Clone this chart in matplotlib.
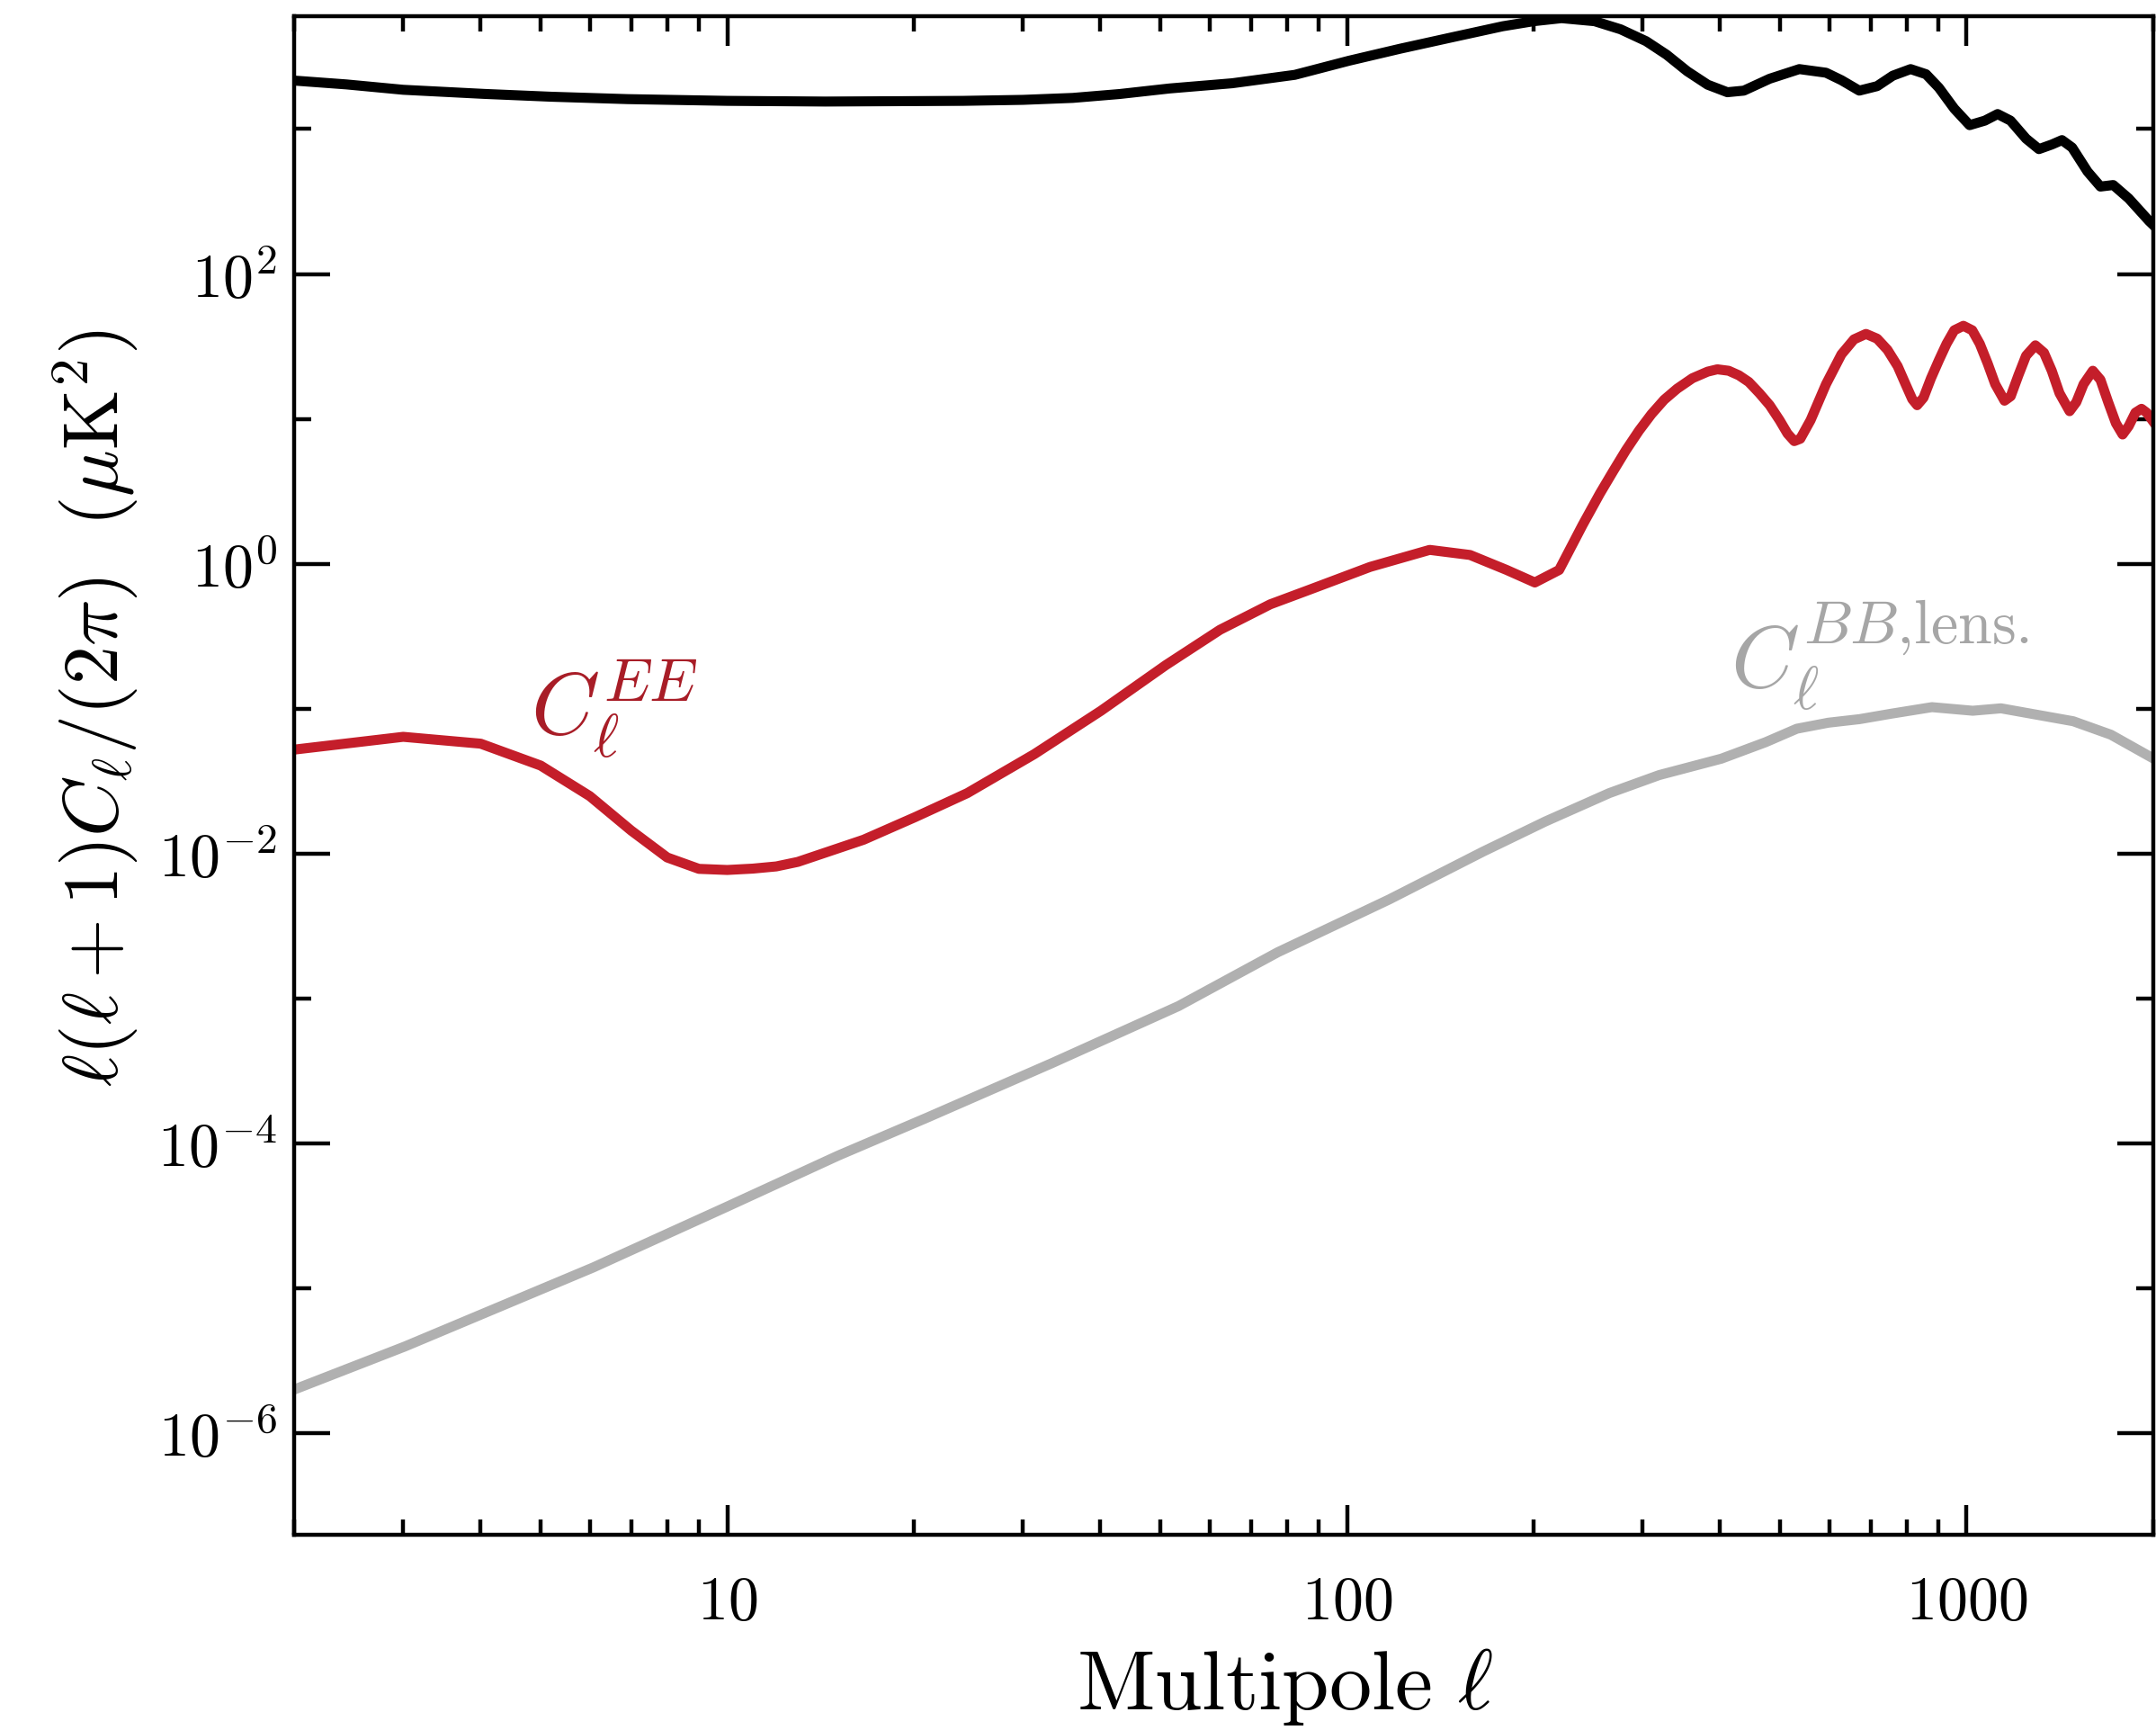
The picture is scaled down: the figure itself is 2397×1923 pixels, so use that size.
import numpy as np
import matplotlib
matplotlib.use("Agg")
import matplotlib.pyplot as plt
from matplotlib.ticker import FixedLocator, FixedFormatter, LogLocator, NullFormatter

plt.rcParams["mathtext.fontset"] = "cm"

# TT spectrum (black)
tt_ell = [2, 2.43, 3.0, 4.05, 5.2, 6.9, 10, 14.4, 24, 30, 36.1, 43, 51.7, 65.3,
          82.4, 100.7, 121.8, 147.4, 178.3, 200, 222, 251, 276.5, 304, 328,
          354, 382, 411, 437, 481, 537, 593, 628, 671, 717, 760, 812, 860, 902,
          955, 1011, 1070, 1122, 1177, 1247, 1308, 1372, 1425, 1480, 1567,
          1644, 1724, 1826, 1970, 2000]
tt_val = [2160, 2032, 1866, 1748, 1671, 1609, 1565, 1548, 1565, 1590, 1640,
          1745, 1905, 2070, 2366, 2958, 3581, 4285, 5117, 5546, 5821, 5546,
          4874, 4036, 3258, 2506, 2023, 1795, 1841, 2224, 2592, 2447, 2173,
          1841, 1977, 2334, 2592, 2389, 1928, 1383, 1064, 1143, 1269, 1143,
          859, 727, 782, 839, 745, 509, 401, 411, 332, 232, 218]

# EE spectrum (red)
ee_ell = [2, 3, 4, 5, 6, 7, 8, 9, 10, 11, 12, 13, 16.6, 20.1, 24.4, 31.3,
          40.1, 51.0, 62.4, 75.2, 87.3, 109, 136, 158, 181, 201, 220, 240,
          256, 269, 282, 296, 310, 325, 341, 361, 382, 396, 413, 429, 445,
          463, 481, 499, 514, 527, 539, 560, 593, 628, 658, 688, 717, 745,
          774, 797, 817, 832, 852, 876, 902, 928, 955, 988, 1021, 1050, 1081,
          1112, 1151, 1178, 1212, 1247, 1291, 1333, 1372, 1412, 1466, 1503,
          1544, 1598, 1644, 1692, 1741, 1785, 1826, 1872, 1915, 1952, 2000]
ee_val = [0.0523, 0.0641, 0.0575, 0.0406, 0.0250, 0.01445, 0.00943, 0.00787,
          0.00773, 0.0079, 0.00818, 0.00879, 0.0125, 0.0179, 0.0262, 0.0487,
          0.097, 0.20, 0.351, 0.526, 0.667, 0.953, 1.249, 1.152, 0.908, 0.744,
          0.908, 1.854, 3.06, 4.37, 6.09, 8.30, 10.79, 13.56, 16.16, 19.1,
          21.2, 22.0, 21.5, 20.0, 18.0, 15.05, 12.44, 9.81, 7.92, 7.03, 7.30,
          9.81, 17.36, 27.9, 35.4, 38.6, 35.8, 30.0, 23.1, 17.36, 13.69,
          12.44, 14.02, 19.1, 25.4, 33.0, 40.9, 43.9, 40.9, 33.0, 24.2, 17.36,
          13.36, 14.35, 20.0, 27.3, 32.2, 28.6, 21.5, 15.05, 11.31, 13.05,
          17.36, 21.5, 18.64, 13.05, 9.35, 7.81, 8.92, 11.05, 11.75, 11.05,
          9.6]

# lensing BB spectrum (grey)
bb_ell = [2, 3.02, 6.08, 10, 15.1, 21, 33.5, 53.5, 77.3, 117, 166, 209, 265,
          319, 402, 474, 532, 598, 672, 755, 879, 1023, 1136, 1353, 1486,
          1709, 2000]
bb_val = [2.01e-6, 3.99e-6, 1.40e-5, 3.68e-5, 8.27e-5, 1.51e-4, 3.61e-4,
          8.9e-4, 2.09e-3, 4.84e-3, 0.01037, 0.0167, 0.0262, 0.0349, 0.0453,
          0.0589, 0.0729, 0.0802, 0.0849, 0.0925, 0.1027, 0.0970, 0.1008,
          0.0882, 0.0821, 0.0663, 0.0455]

y_major = [1e-6, 1e-4, 1e-2, 1e0, 1e2]
y_major_labels = ["$10^{-6}$", "$10^{-4}$", "$10^{-2}$", "$10^{0}$", "$10^{2}$"]
y_minor = [1e-5, 1e-3, 1e-1, 1e1, 1e3]
x_major = [10, 100, 1000]
x_major_labels = ["$10$", "$100$", "$1000$"]

TT_COLOR = "#000000"
EE_COLOR = "#c41e2a"
BB_COLOR = "#b0b0b0"

fig = plt.figure(figsize=(11.985, 9.615), dpi=200)
ax = fig.add_axes([0.1364, 0.1128, 0.8623, 0.8778])

lw = 4.0
ax.plot(bb_ell, bb_val, color=BB_COLOR, lw=lw, solid_joinstyle="round")
ax.plot(ee_ell, ee_val, color=EE_COLOR, lw=lw, solid_joinstyle="round")
ax.plot(tt_ell, tt_val, color=TT_COLOR, lw=lw, solid_joinstyle="round")

ax.set_xscale("log")
ax.set_yscale("log")
ax.set_xlim(2, 2000)
ax.set_ylim(2e-7, 6e3)

ax.xaxis.set_major_locator(FixedLocator(x_major))
ax.xaxis.set_major_formatter(FixedFormatter(x_major_labels))
ax.xaxis.set_minor_locator(LogLocator(base=10, subs=range(2, 10)))
ax.xaxis.set_minor_formatter(NullFormatter())
ax.yaxis.set_major_locator(FixedLocator(y_major))
ax.yaxis.set_major_formatter(FixedFormatter(y_major_labels))
ax.yaxis.set_minor_locator(FixedLocator(y_minor))
ax.yaxis.set_minor_formatter(NullFormatter())

ax.tick_params(which="both", direction="in", top=True, right=True, width=1.6,
               labelsize=24.5)
ax.tick_params(axis="x", which="major", length=12, pad=15)
ax.tick_params(axis="x", which="minor", length=6)
ax.tick_params(axis="y", which="major", length=14.4, pad=7)
ax.tick_params(axis="y", which="minor", length=7)
for sp in ax.spines.values():
    sp.set_linewidth(1.6)

ax.text(4.82, 0.066, r"$C_\ell^{EE}$", color="#a81d27", fontsize=35,
        ha="left", va="baseline")
ax.text(416, 0.1387, r"$C_\ell^{BB{,}\mathrm{lens.}}$", color="#a6a6a6",
        fontsize=35, ha="left", va="baseline")

fig.text(0.5957, 0.012, r"$\mathrm{Multipole}\ \ell$", fontsize=34,
         ha="center", va="baseline")
fig.text(0.0442, 0.5907, r"$\ell(\ell+1)C_\ell/(2\pi)\ \ (\mu\mathrm{K}^2)$",
         fontsize=31, rotation=90, ha="center", va="center")

fig.savefig("out.png", dpi=200)
